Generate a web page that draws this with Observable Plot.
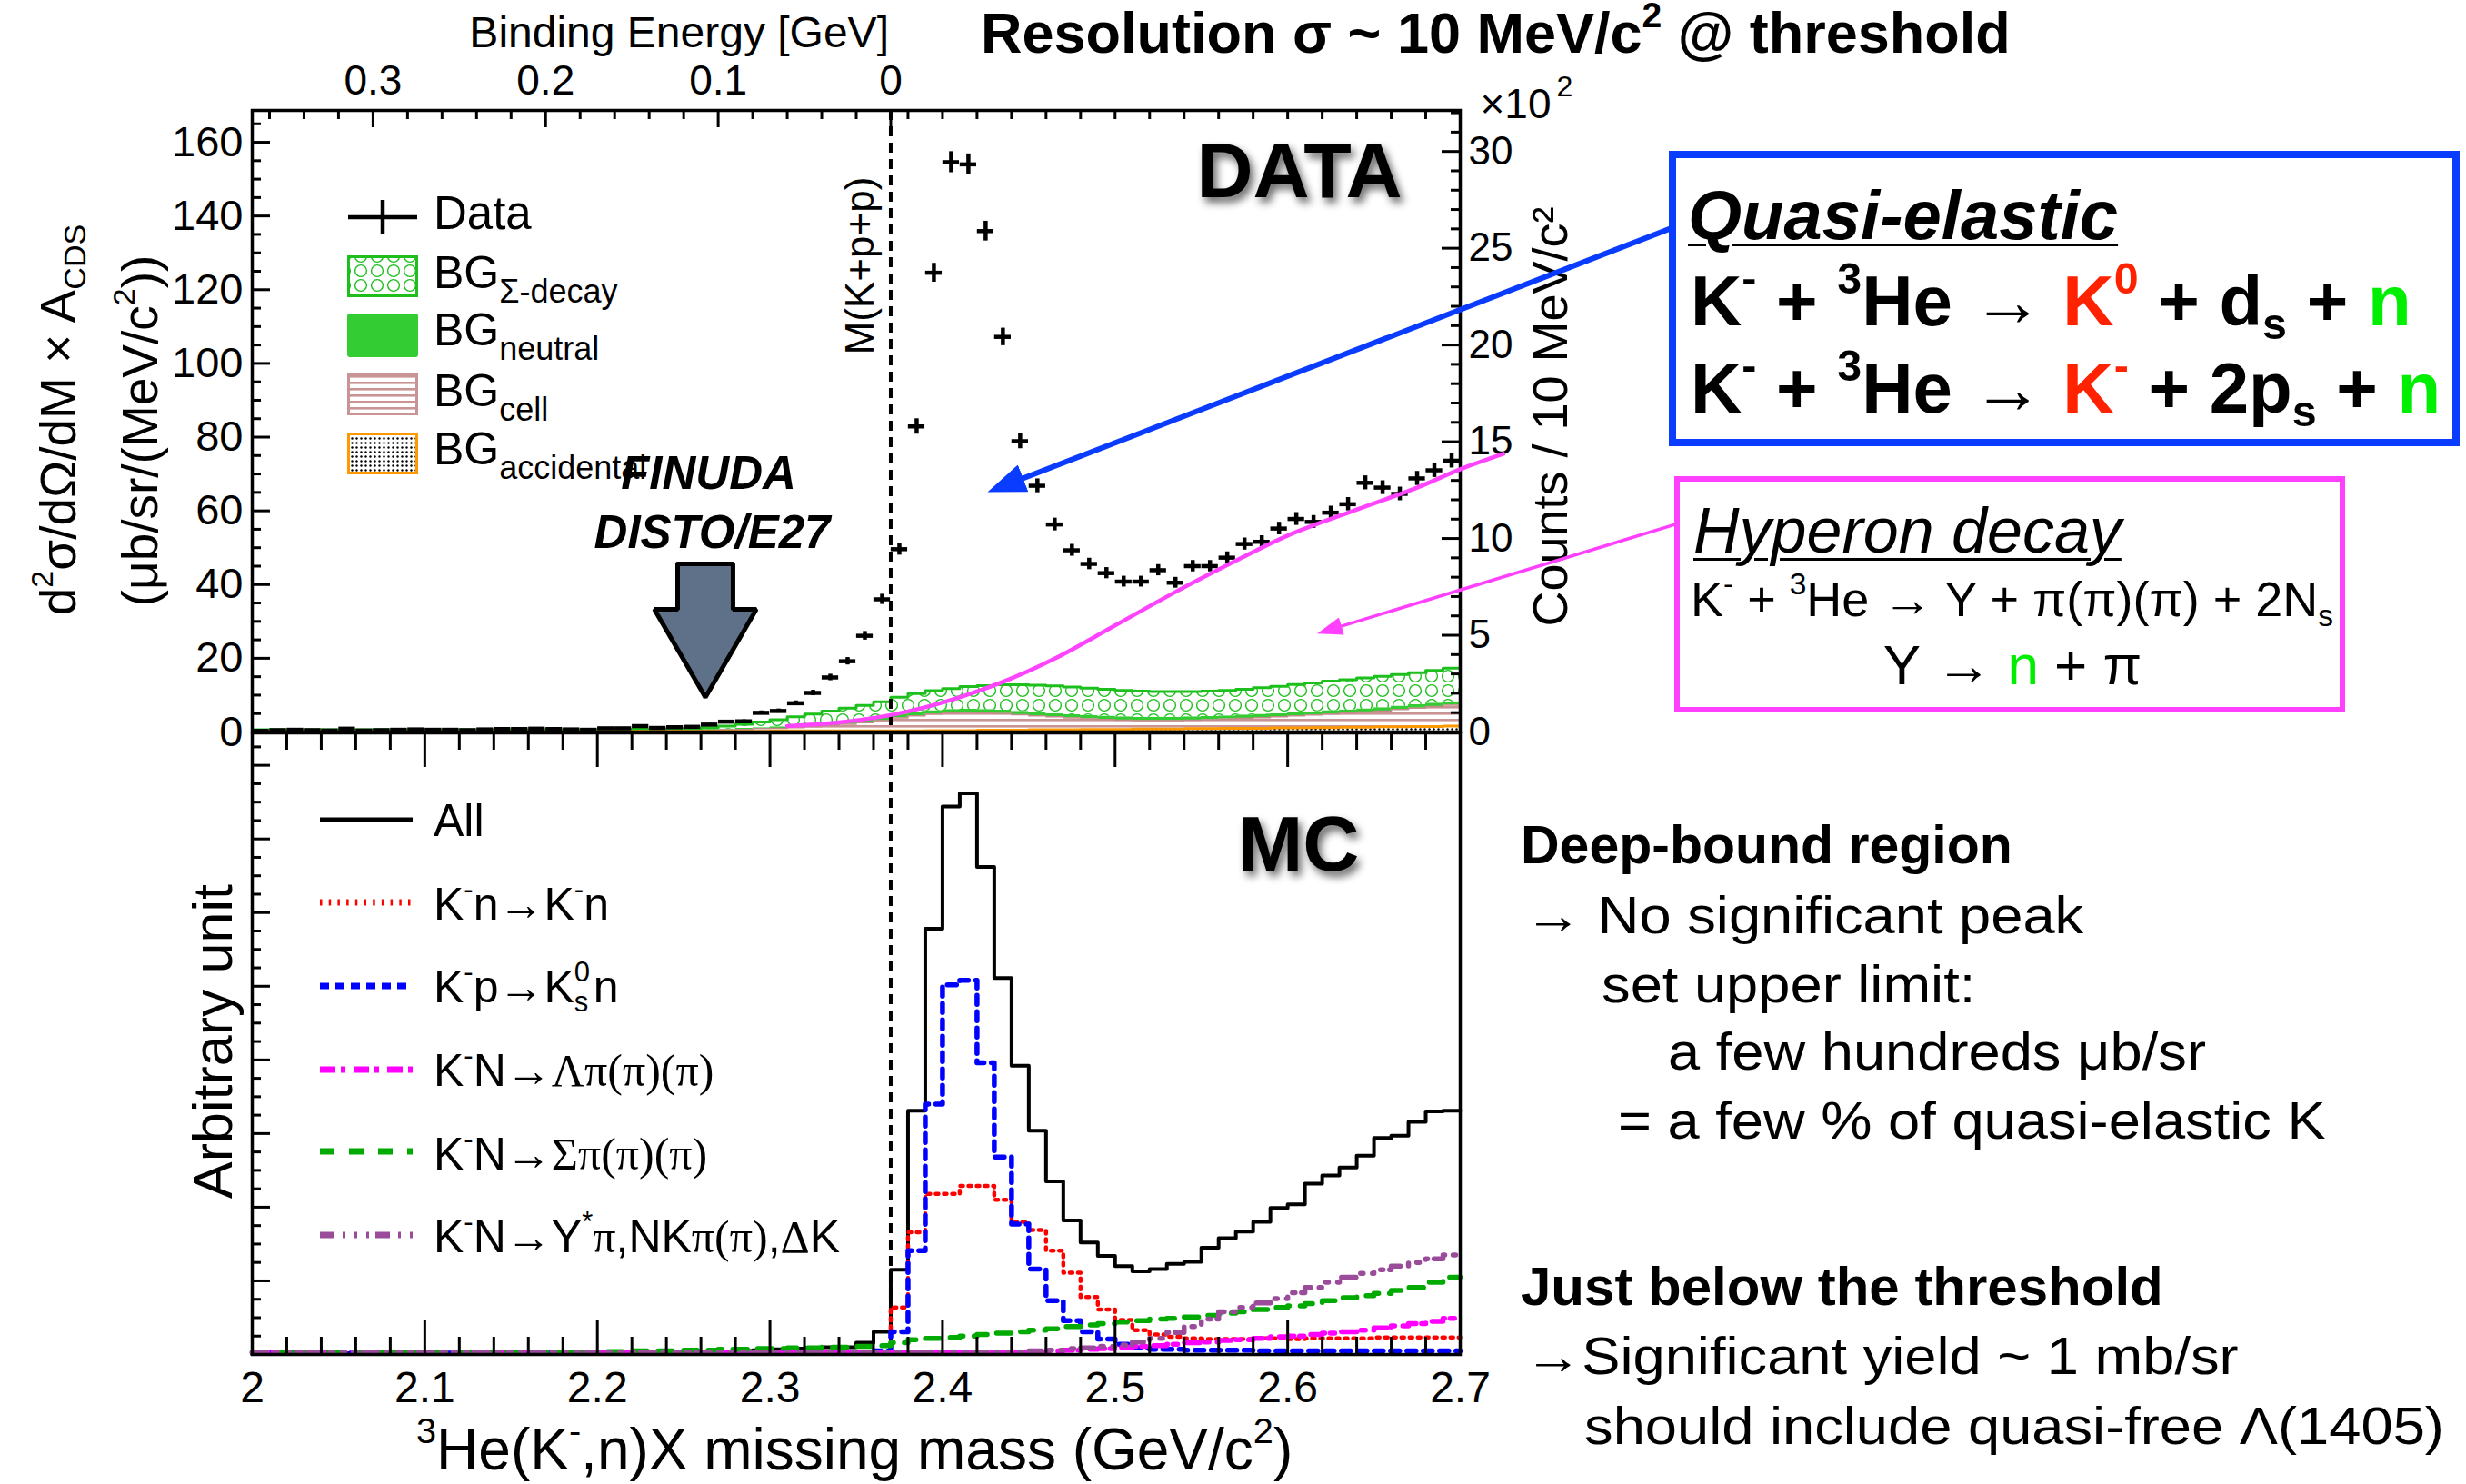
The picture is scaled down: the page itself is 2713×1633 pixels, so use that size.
<!DOCTYPE html>
<html>
<head>
<meta charset="utf-8">
<script src="https://cdn.jsdelivr.net/npm/d3@7"></script>
<script src="https://cdn.jsdelivr.net/npm/@observablehq/plot@0.6"></script>
<style>
html, body { margin: 0; padding: 0; background: #fff; overflow: hidden; }
#root { position: relative; width: 2713px; height: 1633px; overflow: hidden; background: #fff;
  font-family: "Liberation Sans", Arial, Helvetica, sans-serif; color: #000; }
.t { position: absolute; white-space: nowrap; }
.sup { font-size: 0.62em; position: relative; top: -0.72em; line-height: 0; }
.sub { font-size: 0.62em; position: relative; top: 0.32em; line-height: 0; }
.sym { font-family: "Liberation Serif", "DejaVu Serif", serif; }
.box { position: absolute; box-sizing: border-box; background: #fff; }
</style>
</head>
<body>
<div id="root"></div>
<script>
// ---------------- DATA ----------------
const THRESHOLD = 2.37;          // M(K+p+p) in GeV/c^2
const BIN_START = 2.0;
const BIN_W = 0.01;              // 10 MeV/c^2 bins
const COUNTS_PER_UNIT = 19;      // counts per (ub/sr/(MeV/c^2)) unit, for error bars

// measured spectrum (left-axis units), bins 2.00 .. 2.70
const dataValues = [
  0.3,0.5,0.6,0.5,0.4,0.9,0.4,0.5,0.6,0.7,
  0.6,0.6,0.5,0.7,0.8,0.8,0.9,0.8,0.7,0.6,
  1.0,1.0,1.6,1.1,1.3,1.4,2.0,2.8,2.9,5.2,
  5.7,7.8,10.6,14.8,19.2,26.1,36.0,49.6,82.9,124.6,
  154.6,154.0,135.9,107.2,78.9,66.8,56.3,49.3,45.6,43.1,
  40.8,40.8,43.9,40.5,45.0,45.0,47.3,51.0,51.6,55.2,
  57.8,57.0,59.5,61.8,67.6,66.3,64.6,68.8,71.0,73.6];

// background components (stacked, bottom to top)
const bgAccidental = [
  0.2,0.2,0.2,0.2,0.2,0.2,0.2,0.2,0.2,0.2,
  0.2,0.2,0.2,0.2,0.2,0.2,0.2,0.2,0.2,0.2,
  0.2,0.2,0.2,0.2,0.2,0.2,0.2,0.2,0.2,0.2,
  0.3,0.3,0.3,0.3,0.3,0.3,0.3,0.3,0.3,0.4,
  0.4,0.4,0.5,0.5,0.5,0.6,0.6,0.6,0.7,0.7,
  0.7,0.8,0.8,0.8,0.9,0.9,1.0,1.0,1.0,1.1,
  1.1,1.2,1.2,1.3,1.3,1.4,1.4,1.5,1.5,1.6];
const bgCell = [
  0.1,0.1,0.1,0.1,0.1,0.1,0.1,0.1,0.1,0.1,
  0.1,0.1,0.1,0.1,0.1,0.1,0.1,0.1,0.1,0.1,
  0.15,0.15,0.2,0.2,0.25,0.25,0.3,0.4,0.5,0.7,
  0.7,0.9,1.1,1.4,1.8,2.2,2.8,3.5,4.1,4.5,
  4.8,4.9,4.7,4.5,4.2,3.8,3.5,3.2,2.9,2.7,
  2.5,2.3,2.3,2.3,2.3,2.4,2.5,2.7,2.9,3.0,
  3.3,3.4,3.7,3.8,4.1,4.3,4.7,5.0,5.4,5.7];
const bgNeutral = [
  0.1,0.1,0.1,0.1,0.1,0.1,0.1,0.1,0.1,0.1,
  0.1,0.1,0.1,0.1,0.1,0.1,0.1,0.1,0.1,0.1,
  0.1,0.1,0.1,0.1,0.1,0.15,0.2,0.2,0.3,0.3,
  0.4,0.5,0.6,0.7,0.8,0.9,0.9,0.9,0.9,0.9,
  0.9,0.9,0.9,0.9,0.9,0.9,0.9,0.9,0.9,0.9,
  0.9,0.9,0.9,0.9,0.9,0.9,0.9,0.9,0.9,0.9,
  0.9,0.9,0.9,0.9,0.9,0.9,0.9,0.9,0.9,0.9];
const bgSigma = [
  0.2,0.2,0.2,0.2,0.2,0.2,0.2,0.2,0.2,0.2,
  0.2,0.2,0.2,0.2,0.2,0.2,0.2,0.2,0.2,0.2,
  0.25,0.25,0.3,0.3,0.35,0.3,0.5,0.8,1.1,1.5,
  1.9,2.4,2.9,3.3,3.6,3.8,4.2,4.7,5.1,5.4,
  5.7,6.1,6.5,6.9,7.2,7.4,7.5,7.5,7.4,7.3,
  7.2,7.1,7.0,7.0,6.9,6.9,6.9,7.0,7.2,7.4,
  7.6,7.8,8.0,8.2,8.4,8.5,8.6,8.7,8.9,9.1];

// MC histograms (arbitrary units), bins 2.00 .. 2.70
const mcAll = [
  0.02,0.02,0.02,0.02,0.02,0.02,0.02,0.02,0.02,0.02,
  0.02,0.02,0.02,0.02,0.02,0.02,0.02,0.02,0.02,0.02,
  0.03,0.03,0.03,0.03,0.04,0.04,0.04,0.04,0.05,0.06,
  0.07,0.08,0.09,0.10,0.10,0.16,0.31,1.15,3.31,5.78,
  7.44,7.62,6.62,5.11,3.92,3.04,2.35,1.82,1.52,1.34,
  1.20,1.13,1.16,1.23,1.26,1.45,1.58,1.67,1.80,1.99,
  2.04,2.32,2.43,2.54,2.70,2.94,2.97,3.16,3.30,3.31];
const mcKn = [
  0.02,0.02,0.02,0.02,0.02,0.02,0.02,0.02,0.02,0.02,
  0.02,0.02,0.02,0.02,0.02,0.02,0.02,0.02,0.02,0.02,
  0.02,0.02,0.02,0.02,0.02,0.02,0.02,0.02,0.02,0.02,
  0.02,0.02,0.02,0.02,0.02,0.02,0.03,0.64,1.66,2.18,
  2.18,2.29,2.29,2.10,1.80,1.69,1.41,1.11,0.78,0.61,
  0.47,0.33,0.27,0.24,0.22,0.21,0.21,0.21,0.22,0.22,
  0.21,0.22,0.22,0.22,0.22,0.23,0.23,0.23,0.23,0.23];
const mcKp = [
  0.02,0.02,0.02,0.02,0.02,0.02,0.02,0.02,0.02,0.02,
  0.02,0.02,0.02,0.02,0.02,0.02,0.02,0.02,0.02,0.02,
  0.02,0.02,0.02,0.02,0.02,0.02,0.02,0.02,0.02,0.02,
  0.02,0.02,0.02,0.02,0.02,0.02,0.05,0.31,1.41,3.40,
  5.02,5.08,3.96,2.68,1.77,1.16,0.73,0.46,0.31,0.21,
  0.14,0.09,0.07,0.07,0.06,0.06,0.06,0.06,0.05,0.05,
  0.05,0.05,0.05,0.05,0.05,0.05,0.05,0.05,0.05,0.05];
const mcLambda = [
  0.03,0.03,0.03,0.03,0.03,0.03,0.03,0.03,0.03,0.03,
  0.03,0.03,0.03,0.03,0.03,0.03,0.03,0.03,0.03,0.03,
  0.03,0.03,0.03,0.03,0.03,0.03,0.03,0.03,0.03,0.03,
  0.03,0.03,0.03,0.03,0.03,0.03,0.03,0.03,0.03,0.03,
  0.03,0.03,0.03,0.03,0.03,0.04,0.05,0.06,0.07,0.08,
  0.10,0.11,0.12,0.14,0.16,0.17,0.19,0.20,0.22,0.24,
  0.25,0.27,0.29,0.31,0.33,0.36,0.39,0.42,0.45,0.49];
const mcSigma = [
  0.03,0.03,0.03,0.03,0.03,0.03,0.03,0.03,0.03,0.03,
  0.03,0.03,0.03,0.03,0.03,0.03,0.03,0.03,0.03,0.03,
  0.04,0.04,0.05,0.05,0.05,0.06,0.06,0.07,0.07,0.08,
  0.08,0.09,0.09,0.10,0.10,0.11,0.12,0.16,0.20,0.22,
  0.23,0.25,0.27,0.29,0.31,0.33,0.35,0.38,0.40,0.42,
  0.44,0.46,0.48,0.49,0.51,0.53,0.56,0.58,0.61,0.64,
  0.66,0.69,0.73,0.77,0.80,0.83,0.87,0.91,0.98,1.05];
const mcOther = [
  0.03,0.03,0.03,0.03,0.03,0.03,0.03,0.03,0.03,0.03,
  0.03,0.03,0.03,0.03,0.03,0.03,0.03,0.03,0.03,0.03,
  0.03,0.03,0.03,0.03,0.03,0.03,0.03,0.03,0.03,0.03,
  0.03,0.03,0.03,0.03,0.03,0.03,0.03,0.03,0.03,0.03,
  0.03,0.03,0.03,0.03,0.03,0.05,0.06,0.08,0.09,0.11,
  0.13,0.17,0.22,0.30,0.38,0.48,0.58,0.64,0.70,0.76,
  0.84,0.91,0.98,1.05,1.10,1.15,1.20,1.25,1.30,1.35];

// annotations (data coordinates: mass GeV/c^2, left-axis units)
const hyperonCurve = [
  {x: 2.31, y: 1.6}, {x: 2.34, y: 2.6}, {x: 2.37, y: 4.6}, {x: 2.40, y: 8.0},
  {x: 2.435, y: 13.6}, {x: 2.465, y: 19.9}, {x: 2.50, y: 28.9}, {x: 2.535, y: 38.0},
  {x: 2.563, y: 44.8}, {x: 2.60, y: 53.3}, {x: 2.638, y: 60.0}, {x: 2.675, y: 66.3},
  {x: 2.70, y: 71.3}, {x: 2.725, y: 75.5}];
const quasiArrow = [{x1: 2.823, y1: 136.8, x2: 2.4261, y2: 65.1}];
const hyperonArrow = [{x1: 2.8245, y1: 56.3, x2: 2.6171, y2: 26.7}];
const bigArrow = [
  {x: 2.2465, y: 45.6}, {x: 2.2786, y: 45.6}, {x: 2.2786, y: 33.3}, {x: 2.2921, y: 33.3},
  {x: 2.2626, y: 9.4}, {x: 2.2330, y: 33.3}, {x: 2.2465, y: 33.3}, {x: 2.2465, y: 45.6}];

// axes
const leftMajor = [0, 20, 40, 60, 80, 100, 120, 140, 160];
const leftMinor = d3.range(0, 166, 5).filter(v => v % 20 !== 0);
const RIGHT_SCALE = 5.25;        // left units per (x10^2 counts)
const rightMajor = [0, 5, 10, 15, 20, 25, 30];
const rightMinor = d3.range(0, 33).filter(v => v % 5 !== 0);
const bindingMajor = [0.3, 0.2, 0.1, 0];
const bindingMinorM = [
  ...d3.range(1, 19).filter(k => k % 5 !== 0).map(k => THRESHOLD - 0.02 * k),
  ...d3.range(0, 16).map(k => 2.38 + 0.02 * k)];
const massMajor = [2.0, 2.1, 2.2, 2.3, 2.4, 2.5, 2.6, 2.7];
const massMinor = d3.range(1, 35).filter(k => k % 5 !== 0).map(k => 2.0 + 0.02 * k);
const mcMajor = [1, 2, 3, 4, 5, 6, 7, 8];
const mcMinor = d3.range(1, 34).filter(k => k % 4 !== 0).map(k => k * 0.25);

// ---------------- LAYOUT ----------------
const W = 2713;
const ML = 277, MR = W - 1606;
const U_TOP = 121, U_BOT = 805, U_H = 808;
const L_SVG_TOP = 800, L_H = 833, L_MT = 6, L_MB = 143;
const U_FH = U_BOT - U_TOP;                 // 684
const L_FH = L_H - L_MT - L_MB;             // 684
const L_YMAX = 8.44;
const FONT = "'Liberation Sans', Arial, Helvetica, sans-serif";
const BLUE = "#0a3cff", MAG_ARROW = "#ff40fe", MAG_CURVE = "#ff44ff";

const root = document.getElementById("root");
const DEFS = `
 <defs>
  <pattern id="pSigma" patternUnits="userSpaceOnUse" width="18" height="16">
   <rect width="18" height="16" fill="#fff"/>
   <circle cx="9" cy="8" r="6.4" fill="none" stroke="#1dbf1d" stroke-width="1.4"/>
  </pattern>
  <pattern id="pCell" patternUnits="userSpaceOnUse" width="10" height="7">
   <rect width="10" height="7" fill="#fff"/>
   <rect y="0" width="10" height="2.6" fill="#c99494"/>
  </pattern>
  <pattern id="pAcc" patternUnits="userSpaceOnUse" width="5" height="5">
   <rect width="5" height="5" fill="#fff"/>
   <circle cx="2.5" cy="2.5" r="1.2" fill="#000"/>
  </pattern>
  <marker id="headBlue" markerUnits="userSpaceOnUse" markerWidth="42" markerHeight="32"
    viewBox="0 0 42 32" refX="20" refY="16" orient="auto">
   <path d="M0,0L42,16L0,32Z" fill="${BLUE}"/>
  </marker>
  <marker id="headMag" markerUnits="userSpaceOnUse" markerWidth="28" markerHeight="20"
    viewBox="0 0 28 20" refX="14" refY="10" orient="auto">
   <path d="M0,0L28,10L0,20Z" fill="${MAG_ARROW}"/>
  </marker>
  <filter id="shadow" x="-20%" y="-30%" width="150%" height="190%">
   <feGaussianBlur in="SourceAlpha" stdDeviation="5"/>
   <feOffset dx="4" dy="6"/>
   <feComponentTransfer><feFuncA type="linear" slope="0.6"/></feComponentTransfer>
   <feMerge><feMergeNode/><feMergeNode in="SourceGraphic"/></feMerge>
  </filter>
 </defs>`;
root.insertAdjacentHTML("beforeend", `<svg width="0" height="0" style="position:absolute;left:0;top:0">${DEFS}</svg>`);

function addText(html, x, base, size, o = {}) {
  const d = document.createElement("div");
  d.className = "t";
  d.innerHTML = html;
  const s = d.style;
  const lh = o.lh || 1;                         // line-height in em
  const baseOff = (lh - 1.117) / 2 + 0.905;     // baseline offset from box top (Liberation Sans metrics)
  s.left = x + "px";
  s.top = (base - baseOff * size) + "px";
  s.fontSize = size + "px";
  s.lineHeight = (lh * size) + "px";
  if (o.weight) s.fontWeight = o.weight;
  if (o.italic) s.fontStyle = "italic";
  if (o.color) s.color = o.color;
  if (o.underline) {
    s.textDecoration = "underline";
    s.textDecorationThickness = o.underline + "px";
    s.textUnderlineOffset = (o.uOffset || 5) + "px";
  }
  const tf = [];
  if (o.center) tf.push("translateX(-50%)");
  if (o.sx) tf.push(`scaleX(${o.sx})`);
  if (tf.length) { s.transform = tf.join(" "); s.transformOrigin = o.center ? "50% 0" : "0 0"; }
  root.appendChild(d);
  return d;
}
function addRotText(html, cx, cy, size) {
  const d = document.createElement("div");
  d.className = "t";
  d.innerHTML = html;
  Object.assign(d.style, {left: cx + "px", top: cy + "px", fontSize: size + "px",
    lineHeight: size + "px", transform: "translate(-50%,-50%) rotate(-90deg)"});
  root.appendChild(d);
}

// ---------- upper legend (under the plot svg) ----------
root.insertAdjacentHTML("beforeend", `
<svg style="position:absolute;left:370px;top:210px" width="110" height="330">
 <line x1="13" y1="29" x2="89" y2="29" stroke="#000" stroke-width="4.5"/>
 <line x1="51" y1="10" x2="51" y2="48" stroke="#000" stroke-width="4.5"/>
 <rect x="13.5" y="72.5" width="75" height="43" fill="url(#pSigma)" stroke="#1dbf1d" stroke-width="3"/>
 <rect x="12" y="135" width="78" height="48" rx="3" fill="#33cc33"/>
 <rect x="13.5" y="202.5" width="75" height="43" fill="url(#pCell)" stroke="#c99494" stroke-width="3"/>
 <rect x="13.5" y="267.5" width="75" height="43" fill="url(#pAcc)" stroke="#ff9900" stroke-width="3"/>
</svg>`);
const subBG = (s) => `BG<span style="font-size:36px;position:relative;top:16px;line-height:0">${s}</span>`;
addText("Data", 477, 252, 51);
addText(subBG("Σ-decay"), 477, 317, 50);
addText(subBG("neutral"), 477, 380, 50);
addText(subBG("cell"), 477, 447, 50);
addText(subBG("accidental"), 477, 511, 50);

// ---------------- UPPER PLOT ----------------
const bins = dataValues.map((v, i) => ({
  xc: BIN_START + (i + 0.5) * BIN_W, v,
  e: Math.sqrt(v * COUNTS_PER_UNIT) / COUNTS_PER_UNIT}));
const stack = bgAccidental.map((a, i) => {
  const a1 = a, c1 = a1 + bgCell[i], n1 = c1 + bgNeutral[i], s1 = n1 + bgSigma[i];
  return {x: BIN_START + i * BIN_W, a0: 0, a1, c1, n1, s1};
});
stack.push({...stack[stack.length - 1], x: BIN_START + (stack.length) * BIN_W});
const HALF_BAR = 0.0048;
const TXT = {lineAnchor: "middle", textAnchor: "middle"};

const upper = Plot.plot({
  width: W, height: U_H,
  marginLeft: ML, marginRight: MR, marginTop: U_TOP, marginBottom: U_H - U_BOT,
  x: {domain: [2.0, 2.7], axis: null},
  y: {domain: [0, U_FH / 4.056], axis: null},
  style: {background: "transparent", overflow: "visible", fontFamily: FONT},
  marks: [
    // stacked backgrounds
    Plot.areaY(stack, {x: "x", y1: "a0", y2: "a1", curve: "step-after", fill: "url(#pAcc)"}),
    Plot.areaY(stack, {x: "x", y1: "a1", y2: "c1", curve: "step-after", fill: "url(#pCell)"}),
    Plot.areaY(stack, {x: "x", y1: "c1", y2: "n1", curve: "step-after", fill: "#33cc33"}),
    Plot.areaY(stack, {x: "x", y1: "n1", y2: "s1", curve: "step-after", fill: "url(#pSigma)"}),
    Plot.line(stack, {x: "x", y: "c1", curve: "step-after", stroke: "#c48a8a", strokeWidth: 1.5}),
    Plot.line(stack, {x: "x", y: "s1", curve: "step-after", stroke: "#1dbf1d", strokeWidth: 3}),
    Plot.line(stack, {x: "x", y: "a1", curve: "step-after", stroke: "#ff9900", strokeWidth: 3}),
    // threshold
    Plot.ruleX([THRESHOLD], {x: d => d, stroke: "#000", strokeWidth: 4, strokeDasharray: "11,7"}),
    Plot.text([THRESHOLD], {...TXT, x: d => d, text: () => "M(K+p+p)", frameAnchor: "top", dy: 171, dx: -33,
      rotate: -90, fontSize: 44}),
    // data crosses
    Plot.ruleY(bins, {y: "v", x1: d => d.xc - HALF_BAR, x2: d => d.xc + HALF_BAR, stroke: "#000", strokeWidth: 4.5}),
    Plot.ruleX(bins, {x: "xc", y1: d => d.v - d.e, y2: d => d.v + d.e, stroke: "#000", strokeWidth: 4.5}),
    // FINUDA / DISTO arrow
    Plot.line(bigArrow, {x: "x", y: "y", fill: "#5e7189", stroke: "#000", strokeWidth: 5, strokeLinejoin: "miter"}),
    Plot.text(["FINUDA"], {...TXT, text: d => d, frameAnchor: "top-left", dx: 502, dy: 400, fontSize: 51,
      fontWeight: "bold", fontStyle: "italic"}),
    Plot.text(["DISTO/E27"], {...TXT, text: d => d, frameAnchor: "top-left", dx: 506, dy: 465, fontSize: 51,
      fontWeight: "bold", fontStyle: "italic"}),
    Plot.text(["DATA"], {...TXT, text: d => d, frameAnchor: "top-right", dx: -177, dy: 68, fontSize: 86,
      fontWeight: "bold"}),
    // left axis
    Plot.tickY(leftMajor, {y: d => d, insetRight: (W - ML - MR) - 20, strokeWidth: 3}),
    Plot.tickY(leftMinor, {y: d => d, insetRight: (W - ML - MR) - 10, strokeWidth: 3}),
    Plot.text(leftMajor, {y: d => d, text: d => String(d), frameAnchor: "left", dx: -10, textAnchor: "end",
      lineAnchor: "middle", fontSize: 47}),
    // right axis (counts x 10^2)
    Plot.tickY(rightMajor, {y: d => d * RIGHT_SCALE, insetLeft: (W - ML - MR) - 20, strokeWidth: 3}),
    Plot.tickY(rightMinor, {y: d => d * RIGHT_SCALE, insetLeft: (W - ML - MR) - 10, strokeWidth: 3}),
    Plot.text(rightMajor, {y: d => d * RIGHT_SCALE, text: d => String(d), frameAnchor: "right", dx: 9,
      textAnchor: "start", lineAnchor: "middle", fontSize: 44}),
    Plot.text(["×10"], {text: d => d, frameAnchor: "top-right", dx: 22, dy: -6, textAnchor: "start",
      lineAnchor: "middle", fontSize: 46}),
    Plot.text(["2"], {text: d => d, frameAnchor: "top-right", dx: 106, dy: -26, textAnchor: "start",
      lineAnchor: "middle", fontSize: 32}),
    Plot.text(["Counts / 10 MeV/c²"], {...TXT, text: d => d, frameAnchor: "right", dx: 100, dy: -5,
      rotate: -90, fontSize: 54}),
    // top axis: binding energy
    Plot.tickX(bindingMajor, {x: d => THRESHOLD - d, insetBottom: U_FH - 19, strokeWidth: 3}),
    Plot.tickX(bindingMinorM, {x: d => d, insetBottom: U_FH - 10, strokeWidth: 3}),
    Plot.text(bindingMajor, {...TXT, x: d => THRESHOLD - d, text: d => String(d), frameAnchor: "top", dy: -32, fontSize: 46}),
    Plot.text(["Binding Energy [GeV]"], {x: () => THRESHOLD, text: d => d, frameAnchor: "top", dy: -85, dx: -2,
      textAnchor: "end", lineAnchor: "middle", fontSize: 48}),
    Plot.frame({stroke: "#000", strokeWidth: 3.5}),
    // slide annotations
    Plot.line(hyperonCurve, {x: "x", y: "y", curve: "catmull-rom", stroke: MAG_CURVE, strokeWidth: 4.5}),
    Plot.link(quasiArrow, {x1: "x1", y1: "y1", x2: "x2", y2: "y2", stroke: BLUE, strokeWidth: 6}),
    Plot.link(hyperonArrow, {x1: "x1", y1: "y1", x2: "x2", y2: "y2", stroke: MAG_ARROW, strokeWidth: 3.5})
  ]
});

function findByStroke(svg, color) {
  const out = [];
  svg.querySelectorAll("g").forEach(g => {
    if ((g.getAttribute("stroke") || "").toLowerCase() === color) g.querySelectorAll("path").forEach(p => out.push(p));
  });
  svg.querySelectorAll("path").forEach(p => {
    if ((p.getAttribute("stroke") || "").toLowerCase() === color && !out.includes(p)) out.push(p);
  });
  return out;
}
function arrowize(svg, color, marker, shorten) {
  findByStroke(svg, color).forEach(p => {
    const n = (p.getAttribute("d") || "").match(/-?\d*\.?\d+(?:e-?\d+)?/g);
    if (!n || n.length < 4) return;
    const [x1, y1, x2, y2] = n.slice(0, 4).map(Number);
    const L = Math.hypot(x2 - x1, y2 - y1);
    const ex = x2 - (x2 - x1) / L * shorten, ey = y2 - (y2 - y1) / L * shorten;
    p.setAttribute("d", `M${x1},${y1}L${ex},${ey}`);
    p.setAttribute("marker-end", `url(#${marker})`);
  });
}
upper.insertAdjacentHTML("afterbegin", DEFS.replace(/id="/g, 'id="u_'));
arrowize(upper, BLUE, "u_headBlue", 22);
arrowize(upper, MAG_ARROW, "u_headMag", 14);
upper.querySelectorAll("text").forEach(t => { if (t.textContent.trim() === "DATA") t.setAttribute("filter", "url(#u_shadow)"); });
Object.assign(upper.style, {position: "absolute", left: "0px", top: "0px"});
root.appendChild(upper);

// ---------------- LOWER PLOT ----------------
function steps(vals) {
  const pts = vals.map((v, i) => ({x: BIN_START + i * BIN_W, y: v}));
  pts.push({x: BIN_START + vals.length * BIN_W, y: vals[vals.length - 1]});
  return pts;
}
const mcStyles = {
  all:    {stroke: "#000000", strokeWidth: 4, dash: null},
  kn:     {stroke: "#ff0000", strokeWidth: 4.5, dash: "3,6"},
  kp:     {stroke: "#0000ff", strokeWidth: 5.5, dash: "10,8"},
  lambda: {stroke: "#ff00ff", strokeWidth: 5.5, dash: "17,6,5,9"},
  sigma:  {stroke: "#00aa00", strokeWidth: 5.5, dash: "16,12"},
  other:  {stroke: "#9a4c9a", strokeWidth: 5.5, dash: "16,9,3,10,3,10,3,7"}
};
const mcSeries = [["all", mcAll], ["kn", mcKn], ["kp", mcKp], ["lambda", mcLambda], ["sigma", mcSigma], ["other", mcOther]];

const lower = Plot.plot({
  width: W, height: L_H,
  marginLeft: ML, marginRight: MR, marginTop: L_MT, marginBottom: L_MB,
  x: {domain: [2.0, 2.7], axis: null},
  y: {domain: [0, L_YMAX], axis: null},
  style: {background: "transparent", overflow: "visible", fontFamily: FONT},
  marks: [
    Plot.ruleX([THRESHOLD], {x: d => d, stroke: "#000", strokeWidth: 4, strokeDasharray: "11,7"}),
    ...mcSeries.map(([k, vals]) => Plot.line(steps(vals), {x: "x", y: "y", curve: "step-after",
      stroke: mcStyles[k].stroke, strokeWidth: mcStyles[k].strokeWidth,
      strokeDasharray: mcStyles[k].dash || undefined})),
    Plot.text(["MC"], {...TXT, text: d => d, frameAnchor: "top-right", dx: -178, dy: 124, fontSize: 86,
      fontWeight: "bold"}),
    // left axis ticks (no labels)
    Plot.tickY(mcMajor, {y: d => d, insetRight: (W - ML - MR) - 20, strokeWidth: 3}),
    Plot.tickY(mcMinor, {y: d => d, insetRight: (W - ML - MR) - 10, strokeWidth: 3}),
    // bottom ticks + labels
    Plot.tickX(massMajor, {x: d => d, insetTop: L_FH - 38, strokeWidth: 3}),
    Plot.tickX(massMinor, {x: d => d, insetTop: L_FH - 19, strokeWidth: 3}),
    Plot.text(massMajor, {...TXT, x: d => d, text: d => String(+d.toFixed(1)), frameAnchor: "bottom", dy: 37, fontSize: 48}),
    // top ticks (pointing down)
    Plot.tickX(massMajor, {x: d => d, insetBottom: L_FH - 38, strokeWidth: 3}),
    Plot.tickX(massMinor, {x: d => d, insetBottom: L_FH - 19, strokeWidth: 3}),
    Plot.frame({stroke: "#000", strokeWidth: 3.5})
  ]
});
lower.insertAdjacentHTML("afterbegin", DEFS.replace(/id="/g, 'id="l_'));
lower.querySelectorAll("text").forEach(t => { if (t.textContent.trim() === "MC") t.setAttribute("filter", "url(#l_shadow)"); });
Object.assign(lower.style, {position: "absolute", left: "0px", top: L_SVG_TOP + "px"});
root.appendChild(lower);

// ---------- lower legend ----------
const legY = [22, 113, 205, 297, 387, 479];
const legKeys = ["all", "kn", "kp", "lambda", "sigma", "other"];
const legW = {all: 5, kn: 7, kp: 7, lambda: 7, sigma: 7, other: 7};
const legDash = {all: null, kn: "2.5,7.2", kp: "10,7", lambda: "17,6,5,9", sigma: "16,16", other: "16,9,3,10,3,10,3,7"};
root.insertAdjacentHTML("beforeend", `<svg style="position:absolute;left:340px;top:880px" width="130" height="500">
${legKeys.map((k, i) => `<line x1="12" x2="114" y1="${legY[i]}" y2="${legY[i]}" stroke="${mcStyles[k].stroke}"
 stroke-width="${legW[k]}" ${legDash[k] ? `stroke-dasharray="${legDash[k]}"` : ""}/>`).join("")}
</svg>`);
const km = `K<span class="sup">-</span>`;
const arr = `<span class="sym">→</span>`;
const k0s = `K<span style="display:inline-block;position:relative;width:0.42em;height:0.1em">` +
  `<span style="position:absolute;left:0;top:-44px;font-size:31px;line-height:31px">0</span>` +
  `<span style="position:absolute;left:0;top:-11px;font-size:31px;line-height:31px">s</span></span>`;
addText("All", 477, 920, 50);
addText(`${km}n${arr}${km}n`, 477, 1012, 50);
addText(`${km}p${arr}${k0s}n`, 477, 1103, 50);
addText(`${km}N<span class="sym">→Λπ(π)(π)</span>`, 477, 1195, 50);
addText(`${km}N<span class="sym">→Σπ(π)(π)</span>`, 477, 1287, 50);
addText(`${km}N${arr}Y<span class="sup">*</span><span class="sym">π</span>,NK<span class="sym">π(π)</span>,<span class="sym">Δ</span>K`, 477, 1378, 50);

// ---------- axis titles ----------
addRotText(`d<span class="sup">2</span>σ/dΩ/dM × A<span class="sub">CDS</span>`, 64, 462, 55);
addRotText(`(μb/sr/(MeV/c<span class="sup">2</span>))`, 154, 474, 55);
addRotText(`Arbitrary unit`, 234, 1146, 61);
addText(`<span class="sup">3</span>He(K<span class="sup">-</span>,n)X missing mass (GeV/c<span class="sup">2</span>)`, 458, 1617, 64);

// ---------- title ----------
addText(`Resolution σ ~ 10 MeV/c<span class="sup">2</span> @ threshold`, 1079, 58, 63, {weight: "bold", lh: 0.8});

// ---------- quasi-elastic box ----------
const qb = document.createElement("div");
qb.className = "box";
Object.assign(qb.style, {left: "1836px", top: "166px", width: "870px", height: "325px", border: "8px solid " + BLUE});
root.appendChild(qb);
const RED = "#ff2200", GRN = "#00ee00";
addText("Quasi-elastic", 1857, 263, 76, {weight: "bold", italic: true, underline: 3, uOffset: 5});
addText(`K<span class="sup">-</span> + <span class="sup">3</span>He →<span style="color:${RED}"> K<span class="sup">0</span></span> + d<span class="sub">s</span> + <span style="color:${GRN}">n</span>`,
  1860, 358, 78, {weight: "bold"});
addText(`K<span class="sup">-</span> + <span class="sup">3</span>He →<span style="color:${RED}"> K<span class="sup">-</span></span> + 2p<span class="sub">s</span> + <span style="color:${GRN}">n</span>`,
  1860, 454, 78, {weight: "bold"});

// ---------- hyperon decay box ----------
const hb = document.createElement("div");
hb.className = "box";
Object.assign(hb.style, {left: "1842px", top: "524px", width: "738px", height: "260px", border: "6px solid #ff40ff"});
root.appendChild(hb);
addText("Hyperon decay", 1863, 608, 70, {italic: true, underline: 3, uOffset: 6});
addText(`K<span class="sup">-</span> + <span class="sup">3</span>He → Y + π(π)(π) + 2N<span class="sub">s</span>`, 1860, 678, 54);
addText(`Y → <span style="color:${GRN}">n</span> + π`, 2214, 753, 62, {center: true});

// ---------- right notes ----------
addText("Deep-bound region", 1673, 951, 59, {weight: "bold"});
addText("→ No significant peak", 1677, 1028, 57.5, {sx: 1.1});
addText("set upper limit:", 1762, 1104, 57.5, {sx: 1.1});
addText("a few hundreds μb/sr", 1835, 1178, 57.5, {sx: 1.1});
addText("= a few % of quasi-elastic K", 1780, 1254, 57.5, {sx: 1.1});
addText("Just below the threshold", 1673, 1437, 60, {weight: "bold"});
addText("→Significant yield ~ 1 mb/sr", 1677, 1513, 57.5, {sx: 1.1});
addText("should include quasi-free Λ(1405)", 1743, 1590, 57.5, {sx: 1.1});
</script>
</body>
</html>
